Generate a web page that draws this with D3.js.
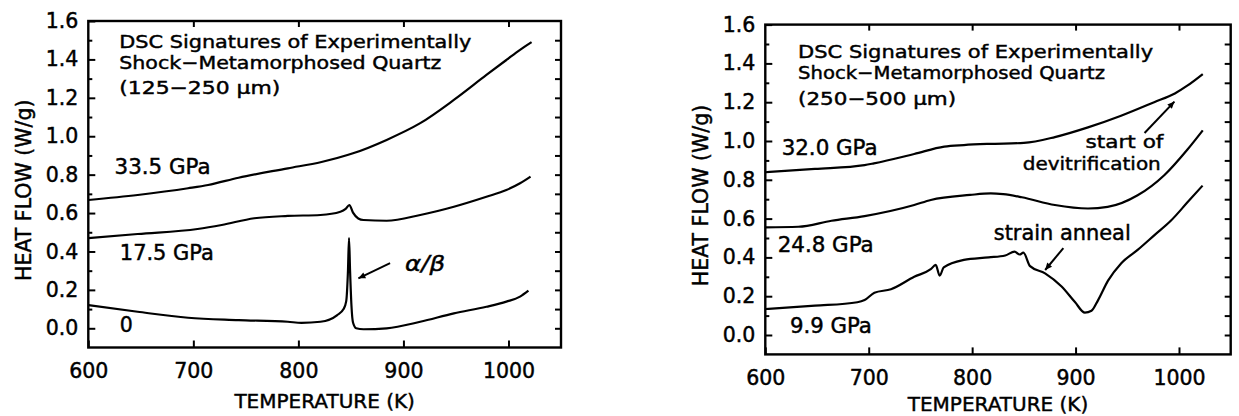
<!DOCTYPE html>
<html>
<head>
<meta charset="utf-8">
<script src="https://cdn.jsdelivr.net/npm/d3@7"></script>
<style>
  body { margin: 0; background: #fff; }
  text { font-family: "DejaVu Sans", sans-serif; fill: #000; stroke: #000; stroke-width: 0.45px; }
</style>
</head>
<body>
<svg id="chart" width="1239" height="416"></svg>
<script>
// tick values shared by both panels
var xTicks = [600, 700, 800, 900, 1000];
var yMajor = [0, 0.2, 0.4, 0.6, 0.8, 1.0, 1.2, 1.4, 1.6];
var yMinor = [0.1, 0.3, 0.5, 0.7, 0.9, 1.1, 1.3, 1.5];
var yRight = [0, 0.1, 0.2, 0.3, 0.4, 0.5, 0.6, 0.7, 0.8, 0.9, 1.0, 1.1, 1.2, 1.3, 1.4, 1.5];

// left panel, 125-250 um
var l335T = [600, 647, 695, 714, 743, 790, 822, 852, 884, 916, 948, 979, 998, 1011, 1022];
var l335V = [0.668, 0.694, 0.729, 0.746, 0.784, 0.833, 0.866, 0.911, 0.981, 1.068, 1.189, 1.319, 1.397, 1.45, 1.49];

var l175T = [600, 647, 704, 727, 758, 790, 821, 840, 845, 848.5, 852, 857, 862, 884, 916, 948, 979, 998, 1011, 1021];
var l175V = [0.469, 0.491, 0.517, 0.538, 0.573, 0.585, 0.590, 0.607, 0.622, 0.642, 0.602, 0.572, 0.564, 0.560, 0.590, 0.633, 0.685, 0.720, 0.755, 0.79];

var l0T = [600, 647, 695, 743, 790, 803, 821, 837, 843, 845.5, 847.2, 848.2, 849.2, 850.5, 852, 855, 862, 884, 916, 948, 979, 998, 1011, 1019];
var l0V = [0.121, 0.086, 0.055, 0.043, 0.034, 0.028, 0.034, 0.069, 0.10, 0.14, 0.30, 0.47, 0.30, 0.12, 0.03, 0.0, -0.005, 0.0, 0.034, 0.078, 0.112, 0.139, 0.165, 0.196];

// right panel, 250-500 um
var r320T = [600, 648, 696, 705, 744, 773, 792, 816, 850, 880, 912, 944, 976, 996, 1008, 1023];
var r320V = [0.839, 0.856, 0.876, 0.885, 0.933, 0.971, 0.979, 0.985, 0.99, 1.02, 1.07, 1.13, 1.20, 1.245, 1.285, 1.345];

var r248T = [600, 632, 664, 696, 744, 760, 798, 818, 830, 848, 880, 912, 931, 960, 986, 1008, 1023];
var r248V = [0.555, 0.558, 0.589, 0.613, 0.670, 0.696, 0.722, 0.73, 0.726, 0.71, 0.67, 0.652, 0.66, 0.72, 0.825, 0.955, 1.055];

var r99T = [600, 648, 689, 696, 705.5, 721.5, 744, 760, 764.8, 768.6, 772.5, 792, 816, 832, 841, 846, 849.5, 856, 870.5, 886.5, 899.4, 909, 915.4, 921.8, 931.4, 944.2, 960.3, 976.3, 992.3, 1008.4, 1022.8];
var r99V = [0.134, 0.151, 0.169, 0.180, 0.218, 0.236, 0.30, 0.339, 0.361, 0.306, 0.348, 0.387, 0.40, 0.41, 0.43, 0.415, 0.425, 0.355, 0.318, 0.25, 0.17, 0.115, 0.125, 0.18, 0.28, 0.37, 0.44, 0.515, 0.59, 0.685, 0.77];

var svg = d3.select('#chart');
var FS = 20.5;

svg.append('defs').append('marker')
    .attr('id', 'head')
    .attr('viewBox', '0 0 10 10')
    .attr('refX', 10).attr('refY', 5)
    .attr('markerUnits', 'userSpaceOnUse')
    .attr('markerWidth', 11).attr('markerHeight', 7)
    .attr('orient', 'auto')
    .append('path').attr('d', 'M0,0.5 L10,5 L0,9.5 z').attr('fill', '#000');

function styleAxis(g) {
    g.select('.domain').remove();
    g.selectAll('line').attr('stroke', '#000').attr('stroke-width', 2);
    g.selectAll('text').attr('font-size', FS).attr('font-family', '"DejaVu Sans", sans-serif').attr('fill', '#000');
}

function drawPanel(p) {
    var x = d3.scaleLinear().domain([600, 1050]).range([p.left, p.right]);
    var y = d3.scaleLinear().domain([-0.1, 1.6]).range([p.bottom, p.top]);
    var g = svg.append('g');

    g.append('g').attr('transform', 'translate(' + p.left + ',0)')
        .call(d3.axisLeft(y).tickValues(yMajor).tickSize(-7).tickPadding(10).tickFormat(d3.format('.1f')))
        .call(styleAxis);
    g.append('g').attr('transform', 'translate(' + p.left + ',0)')
        .call(d3.axisLeft(y).tickValues(yMinor).tickSize(-4).tickFormat(''))
        .call(styleAxis);
    g.append('g').attr('transform', 'translate(' + p.right + ',0)')
        .call(d3.axisRight(y).tickValues(yRight).tickSize(-6).tickFormat(''))
        .call(styleAxis);
    g.append('g').attr('transform', 'translate(0,' + p.bottom + ')')
        .call(d3.axisBottom(x).tickValues(xTicks).tickSize(-7).tickPadding(16).tickFormat(d3.format('d')))
        .call(styleAxis);
    g.append('g').attr('transform', 'translate(0,' + p.top + ')')
        .call(d3.axisTop(x).tickValues(xTicks.slice(1)).tickSize(-6).tickFormat(''))
        .call(styleAxis);

    g.append('rect')
        .attr('x', p.left).attr('y', p.top)
        .attr('width', p.right - p.left).attr('height', p.bottom - p.top)
        .attr('fill', 'none').attr('stroke', '#000').attr('stroke-width', 2.4);

    var line = d3.line()
        .x(function (d) { return x(d[0]); })
        .y(function (d) { return y(d[1]); })
        .curve(d3.curveMonotoneX);

    p.series.forEach(function (s) {
        var pts = s.t.map(function (t, i) { return [t, s.v[i]]; });
        g.append('path').datum(pts)
            .attr('d', line)
            .attr('fill', 'none').attr('stroke', '#000')
            .attr('stroke-width', 2.2).attr('stroke-linejoin', 'round');
    });

    p.labels.forEach(function (l) {
        var t = g.append('text')
            .attr('x', x(l.t)).attr('y', y(l.v))
            .attr('font-size', l.fs || FS)
            .attr('text-anchor', l.anchor || 'start')
            .text(l.text);
        if (l.len) t.attr('textLength', l.len).attr('lengthAdjust', 'spacingAndGlyphs');
        if (l.italic) t.attr('font-style', 'italic');
    });

    p.arrows.forEach(function (a) {
        g.append('line')
            .attr('x1', x(a[0])).attr('y1', y(a[1]))
            .attr('x2', x(a[2])).attr('y2', y(a[3]))
            .attr('stroke', '#000').attr('stroke-width', 2)
            .attr('marker-end', 'url(#head)');
    });

    // axis titles
    g.append('text')
        .attr('x', (p.left + p.right) / 2).attr('y', p.xTitleY)
        .attr('text-anchor', 'middle').attr('font-size', 20)
        .text('TEMPERATURE (K)');
    g.append('text')
        .attr('transform', 'translate(' + p.yTitleX + ',' + ((p.top + p.bottom) / 2 + 6) + ') rotate(-90)')
        .attr('text-anchor', 'middle').attr('font-size', FS)
        .text('HEAT FLOW (W/g)');
}

drawPanel({
    left: 88.3, right: 561, top: 21, bottom: 347.5,
    xTitleY: 407.5, yTitleX: 31,
    series: [{t: l335T, v: l335V}, {t: l175T, v: l175V}, {t: l0T, v: l0V}],
    labels: [
        {t: 629.5, v: 1.462, text: 'DSC Signatures of Experimentally', len: 352, fs: 18},
        {t: 629.5, v: 1.352, text: 'Shock\u2212Metamorphosed Quartz', len: 322, fs: 18},
        {t: 629.5, v: 1.22, text: '(125\u2212250 \u03bcm)', len: 161, fs: 18},
        {t: 625, v: 0.804, text: '33.5 GPa', len: 96},
        {t: 630, v: 0.356, text: '17.5 GPa', len: 94},
        {t: 630, v: -0.018, text: '0'},
        {t: 901.6, v: 0.298, text: '\u03b1/\u03b2', italic: true, len: 40}
    ],
    arrows: [[887.3, 0.339, 857.1, 0.26]]
});

drawPanel({
    left: 765.3, right: 1230.7, top: 24.6, bottom: 354.4,
    xTitleY: 410.5, yTitleX: 708,
    series: [{t: r320T, v: r320V}, {t: r248T, v: r248V}, {t: r99T, v: r99V}],
    labels: [
        {t: 631.7, v: 1.43, text: 'DSC Signatures of Experimentally', len: 355, fs: 18},
        {t: 631.7, v: 1.32, text: 'Shock\u2212Metamorphosed Quartz', len: 307, fs: 18},
        {t: 631.7, v: 1.186, text: '(250\u2212500 \u03bcm)', len: 158, fs: 18},
        {t: 615.8, v: 0.928, text: '32.0 GPa', len: 96},
        {t: 612, v: 0.429, text: '24.8 GPa', len: 96},
        {t: 623.8, v: 0.009, text: '9.9 GPa', len: 82},
        {t: 820.9, v: 0.49, text: 'strain anneal', len: 137},
        {t: 985, v: 0.966, text: 'start of', anchor: 'end', fs: 18.5, len: 78},
        {t: 982.4, v: 0.851, text: 'devitrification', anchor: 'end', fs: 18.5, len: 138}
    ],
    arrows: [[888.2, 0.448, 870.6, 0.335], [966.7, 1.041, 995.6, 1.203]]
});
</script>
</body>
</html>
